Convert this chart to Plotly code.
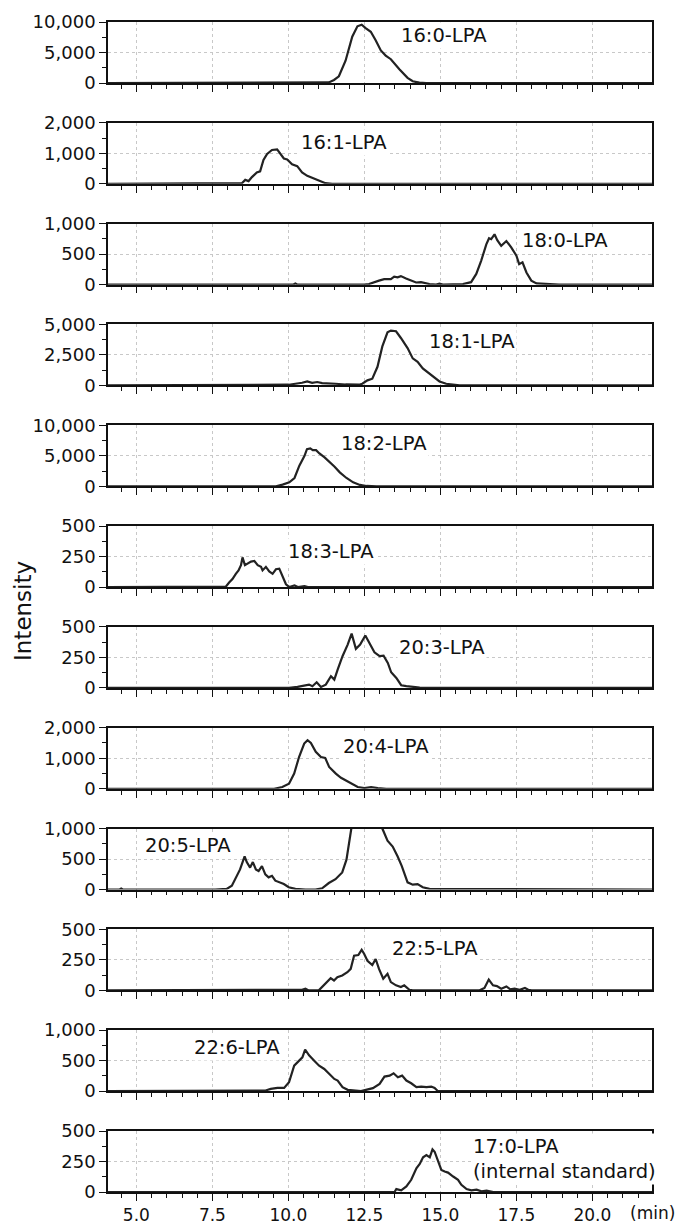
import plotly.graph_objects as go

# ---------------- data (retention time in min, intensity) ----------------
labels = ["16:0-LPA", "16:1-LPA", "18:0-LPA", "18:1-LPA", "18:2-LPA", "18:3-LPA",
          "20:3-LPA", "20:4-LPA", "20:5-LPA", "22:5-LPA", "22:6-LPA",
          "17:0-LPA<br>(internal standard)"]

rt_160 = [4.0, 9.5, 9.6, 9.7, 11.22, 11.33, 11.5, 11.66, 11.88, 12.10, 12.27, 12.41, 12.54, 12.71, 12.87,
          13.04, 13.20, 13.37, 13.65, 13.92, 14.09, 14.31, 14.53, 22.0]
int_160 = [0, 0, 40, 0, 0, 100, 500, 1100, 3650, 7600, 9300, 9550, 9000, 8400, 7000,
           5340, 4500, 3900, 2250, 840, 280, 50, 0, 0]

rt_161 = [4.0, 8.4, 8.47, 8.58, 8.69, 8.80, 8.96, 9.07, 9.18, 9.30, 9.46, 9.63, 9.74, 9.85, 9.96,
          10.12, 10.29, 10.45, 10.62, 10.84, 11.00, 11.22, 11.44, 13.6, 13.65, 13.7, 22.0]
int_161 = [0, 0, 20, 130, 90, 220, 370, 410, 780, 980, 1110, 1130, 980, 830, 800,
           640, 580, 370, 260, 170, 90, 20, 0, 0, 20, 0, 0]

rt_180 = [4.0, 10.15, 10.23, 10.3, 12.5, 12.65, 12.98, 13.15, 13.37, 13.48, 13.59, 13.70, 13.87, 14.03,
          14.20, 14.36, 14.64, 14.86, 14.97, 15.08, 15.74, 16.01, 16.18, 16.34, 16.51, 16.60, 16.67,
          16.78, 16.87, 17.00, 17.17, 17.33, 17.50, 17.59, 17.70, 17.83, 17.99, 18.16, 18.38, 18.71,
          18.9, 22.0]
int_180 = [0, 0, 20, 0, 0, 10, 65, 90, 90, 130, 120, 140, 100, 65,
           35, 40, 10, 0, 15, 0, 10, 40, 175, 390, 660, 760, 745,
           825, 730, 635, 715, 610, 475, 335, 365, 200, 65, 20, 15, 10,
           0, 0]

rt_181 = [4.0, 9.9, 10.01, 10.45, 10.62, 10.78, 10.95, 11.11, 11.33, 11.55, 11.88, 12.32, 12.43, 12.60,
          12.76, 12.93, 13.09, 13.26, 13.37, 13.54, 13.70, 13.92, 14.09, 14.25, 14.42, 14.64, 14.80,
          14.97, 15.19, 15.41, 15.63, 22.0]
int_181 = [0, 0, 60, 220, 330, 220, 280, 190, 190, 140, 80, 60, 140, 420,
           555, 1530, 3200, 4360, 4500, 4440, 3890, 3060, 2220, 1940, 1390, 970, 640,
           330, 140, 60, 0, 0]

rt_182 = [4.0, 9.59, 9.81, 10.03, 10.20, 10.36, 10.53, 10.61, 10.72, 10.80, 10.91, 11.02, 11.19, 11.35,
          11.52, 11.69, 11.91, 12.13, 12.35, 12.57, 12.90, 22.0]
int_182 = [0, 0, 270, 650, 1360, 3370, 5000, 6090, 6200, 5920, 5920, 5380, 4730, 4020,
           3200, 2280, 1360, 650, 220, 50, 0, 0]

rt_183 = [4.0, 7.67, 7.94, 8.05, 8.16, 8.27, 8.36, 8.44, 8.49, 8.57, 8.66, 8.77, 8.88, 8.99, 9.10,
          9.15, 9.26, 9.37, 9.48, 9.59, 9.70, 9.81, 9.92, 10.03, 10.20, 10.31, 10.53, 10.64, 22.0]
int_183 = [0, 0, 3, 37, 66, 109, 137, 180, 243, 180, 194, 209, 214, 180, 166,
           137, 166, 129, 109, 146, 151, 94, 23, 0, 14, 0, 8, 0, 0]

rt_203 = [4.0, 10.02, 10.30, 10.52, 10.68, 10.79, 10.93, 11.07, 11.23, 11.40, 11.51, 11.62, 11.78, 11.95,
          12.08, 12.22, 12.36, 12.53, 12.69, 12.83, 13.00, 13.13, 13.27, 13.38, 13.55, 13.71, 13.88,
          14.04, 14.32, 14.48, 22.0]
int_203 = [0, 0, 8, 19, 27, 14, 46, 8, 27, 96, 68, 150, 260, 355,
           445, 320, 355, 429, 355, 292, 260, 265, 205, 128, 82, 22, 14,
           8, 3, 0, 0]

rt_204 = [4.0, 9.53, 9.80, 10.02, 10.19, 10.35, 10.52, 10.63, 10.74, 10.90, 11.07, 11.21, 11.34, 11.56,
          11.73, 12.00, 12.28, 12.50, 12.72, 12.94, 13.22, 22.0]
int_204 = [0, 0, 55, 165, 495, 1040, 1480, 1590, 1500, 1210, 1040, 1010, 715, 495,
           360, 200, 55, 22, 55, 22, 0, 0]

rt_205 = [4.0, 4.45, 4.5, 4.55, 7.59, 7.97, 8.14, 8.30, 8.41, 8.56, 8.63, 8.74, 8.83, 8.93, 9.02, 9.13,
          9.24, 9.35, 9.46, 9.57, 9.68, 9.85, 10.01, 10.23, 10.56, 10.89, 11.11, 11.33, 11.55, 11.77,
          11.91, 12.00, 12.07, 12.3, 12.6, 12.9, 13.09, 13.26, 13.43, 13.59, 13.73, 13.92, 14.09,
          14.25, 14.42, 14.64, 14.86, 15.02, 22.0]
int_205 = [0, 0, 15, 0, 0, 10, 64, 225, 330, 545, 450, 360, 450, 330, 305, 385,
           250, 200, 225, 145, 118, 90, 37, 10, 0, 0, 21, 107, 170, 280,
           490, 760, 1000, 1500, 1700, 1450, 1000, 800, 705, 545, 385, 118, 80,
           90, 37, 10, 10, 0, 0]

rt_225 = [4.0, 9.79, 10.12, 10.45, 10.56, 10.67, 11.0, 11.11, 11.28, 11.39, 11.50, 11.61, 11.77, 11.94,
          12.05, 12.16, 12.30, 12.41, 12.49, 12.60, 12.76, 12.87, 12.98, 13.12, 13.26, 13.37, 13.54,
          13.70, 13.81, 13.98, 14.09, 16.29, 16.45, 16.59, 16.73, 16.86, 17.0, 17.17, 17.30, 17.44,
          17.61, 17.78, 17.89, 18.0, 22.0]
int_225 = [0, 0, 3, 5, 14, 0, 0, 27, 68, 100, 81, 108, 122, 149,
           176, 284, 289, 332, 300, 243, 208, 257, 176, 95, 135, 68, 41,
           27, 41, 5, 0, 0, 19, 89, 41, 35, 14, 32, 8, 14,
           5, 19, 5, 0, 0]

rt_226 = [4.0, 8.92, 9.03, 9.25, 9.42, 9.64, 9.86, 10.02, 10.19, 10.35, 10.46, 10.55, 10.68, 10.85,
          11.01, 11.18, 11.34, 11.51, 11.62, 11.78, 11.95, 12.17, 12.39, 12.55, 12.78, 13.00, 13.16,
          13.33, 13.46, 13.60, 13.74, 13.88, 14.04, 14.21, 14.37, 14.54, 14.70, 14.81, 14.92, 22.0]
int_226 = [0, 0, 11, 11, 38, 54, 54, 147, 418, 500, 554, 680, 587, 500,
           418, 364, 283, 201, 174, 65, 22, 11, 0, 22, 49, 120, 239,
           255, 293, 228, 255, 174, 130, 65, 76, 65, 76, 54, 0, 0]

rt_170 = [4.0, 12.0, 12.11, 12.2, 13.49, 13.55, 13.71, 13.88, 14.04, 14.21, 14.32, 14.43, 14.54, 14.65,
          14.74, 14.81, 14.92, 15.03, 15.14, 15.25, 15.42, 15.58, 15.69, 15.86, 16.02, 16.19, 16.35,
          16.52, 16.74, 22.0]
int_170 = [0, 0, 5, 0, 0, 24, 14, 46, 100, 195, 230, 284, 303, 284,
           349, 330, 249, 181, 168, 159, 127, 100, 59, 24, 14, 19, 5,
           11, 0, 0]

y_max = [10000, 2000, 1000, 5000, 10000, 500, 500, 2000, 1000, 500, 1000, 500]
y_step = [5000, 1000, 500, 2500, 5000, 250, 250, 1000, 500, 250, 500, 250]

label_x = [13.63, 10.35, 17.63, 14.56, 11.66, 9.93, 13.57, 11.74, 5.23, 13.33, 6.83, 16.02]
label_y = [7860, 1353, 728, 3617, 7064, 288, 328, 1394, 716, 343, 718, 267]

x_ticks = [5.0, 7.5, 10.0, 12.5, 15.0, 17.5, 20.0]

series = [(rt_160, int_160), (rt_161, int_161), (rt_180, int_180), (rt_181, int_181),
          (rt_182, int_182), (rt_183, int_183), (rt_203, int_203), (rt_204, int_204),
          (rt_205, int_205), (rt_225, int_225), (rt_226, int_226), (rt_170, int_170)]

# ---------------- figure ----------------
W, H = 679, 1228
M_L, M_R, M_T, M_B = 108, 27, 22, 36
plot_w = W - M_L - M_R
plot_h = H - M_T - M_B
PANEL_H = 61.0
PITCH = (plot_h - PANEL_H) / 11
FONT = "DejaVu Sans, Verdana, sans-serif"
GRID = "#c8c8c8"

fig = go.Figure()
layout = dict(
    width=W, height=H, autosize=False,
    margin=dict(l=M_L, r=M_R, t=M_T, b=M_B, autoexpand=False),
    paper_bgcolor="white", plot_bgcolor="white",
    showlegend=False,
    font=dict(family=FONT, size=18, color="#111"),
)
annotations = []

n = len(series)
for i, (xs, ys) in enumerate(series):
    k = "" if i == 0 else str(i + 1)
    top_off = PITCH * i
    d1 = 1 - top_off / plot_h
    d0 = 1 - (top_off + PANEL_H) / plot_h
    fig.add_trace(go.Scatter(x=xs, y=ys, mode="lines",
                             line=dict(color="#222222", width=2.2),
                             xaxis="x" + k, yaxis="y" + k, hoverinfo="skip"))
    last = (i == n - 1)
    layout["xaxis" + k] = dict(
        domain=[0, 1], anchor="y" + k, range=[4.066, 21.96], automargin=False,
        tickmode="array", tickvals=x_ticks,
        ticktext=[f"{v:.1f}" for v in x_ticks],
        showticklabels=last, ticks="outside", ticklen=7, tickwidth=1.3, tickcolor="#111",
        minor=dict(dtick=0.5, tick0=4, ticks="outside", ticklen=4, tickwidth=1.2,
                   tickcolor="#111", showgrid=False),
        showgrid=True, gridcolor=GRID, griddash="dot", gridwidth=1,
        showline=True, linecolor="#111", linewidth=1.6, mirror=True,
        zeroline=False, tickfont=dict(size=17),
    )
    layout["yaxis" + k] = dict(
        domain=[d0, d1], anchor="x" + k, range=[0, y_max[i]], automargin=False,
        tickmode="linear", tick0=0, dtick=y_step[i], tickformat=",d",
        ticks="outside", ticklen=7, tickwidth=1.3, tickcolor="#111",
        minor=dict(dtick=y_step[i] / 2, ticks="outside", ticklen=4, tickwidth=1.2,
                   tickcolor="#111", showgrid=False),
        showgrid=True, gridcolor=GRID, griddash="dot", gridwidth=1,
        showline=True, linecolor="#111", linewidth=1.6, mirror=True,
        zeroline=False, tickfont=dict(size=18),
    )
    annotations.append(dict(
        x=label_x[i], y=label_y[i], xref="x" + k, yref="y" + k,
        text=labels[i], showarrow=False, xanchor="left", yanchor="middle",
        align="left", bgcolor="white", font=dict(size=19.5, family=FONT, color="#111"),
    ))

annotations.append(dict(
    x=(23 - M_L) / plot_w, y=(H - M_B - 611) / plot_h, xref="paper", yref="paper",
    text="Intensity", textangle=-90, showarrow=False, xanchor="center", yanchor="middle",
    font=dict(size=23, family=FONT, color="#111"),
))
annotations.append(dict(
    x=(628 - M_L) / plot_w, y=(H - M_B - 1213) / plot_h, xref="paper", yref="paper",
    text="(min)", showarrow=False, xanchor="left", yanchor="middle",
    font=dict(size=17, family=FONT, color="#111"),
))
layout["annotations"] = annotations
fig.update_layout(**layout)
fig.write_html("out.html", config={"displayModeBar": False},
               post_script="document.body.style.margin='0px';")
